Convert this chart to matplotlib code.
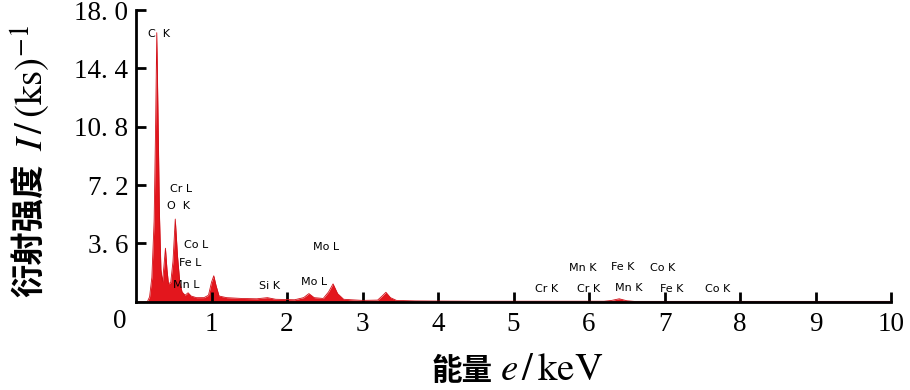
import matplotlib
matplotlib.use('Agg')
import matplotlib.pyplot as plt

plt.rcParams['font.family'] = ['Liberation Serif', 'Noto Sans CJK SC']
plt.rcParams['mathtext.fontset'] = 'stix'

# EDS spectrum
energy = [0.0, 0.15, 0.18, 0.21, 0.24, 0.26, 0.275, 0.29, 0.31, 0.33, 0.35, 0.37,
          0.39, 0.41, 0.43, 0.46, 0.49, 0.52, 0.55, 0.58, 0.61, 0.65, 0.69, 0.73,
          0.8, 0.9, 0.96, 1.0, 1.03, 1.06, 1.1, 1.2, 1.4, 1.6, 1.74, 1.85, 2.1,
          2.22, 2.29, 2.36, 2.48, 2.55, 2.61, 2.67, 2.75, 2.85, 3.0, 3.2, 3.26,
          3.31, 3.37, 3.45, 3.7, 4.0, 4.5, 5.5, 6.2, 6.3, 6.4, 6.5, 6.6, 7.5, 10.0]
counts = [0.0, 0.0, 0.3, 1.5, 5.0, 11.0, 16.6, 12.0, 5.5, 2.0, 1.2, 2.2,
          3.3, 2.0, 1.1, 1.2, 2.5, 5.1, 2.8, 1.2, 0.6, 0.4, 0.55, 0.35,
          0.25, 0.25, 0.4, 1.2, 1.6, 1.0, 0.35, 0.25, 0.2, 0.18, 0.25, 0.15, 0.12,
          0.25, 0.5, 0.25, 0.2, 0.6, 1.1, 0.5, 0.15, 0.12, 0.08, 0.1, 0.35,
          0.58, 0.25, 0.08, 0.05, 0.04, 0.03, 0.03, 0.03, 0.08, 0.18, 0.06, 0.02, 0.02, 0.02]

# peak labels: text, energy, intensity position
peak_labels = ['C  K', 'Cr L', 'O  K', 'Co L', 'Fe L', 'Mn L', 'Si K', 'Mo L', 'Mo L',
               'Cr K', 'Mn K', 'Cr K', 'Fe K', 'Mn K', 'Co K', 'Fe K', 'Co K']
label_x = [0.30, 0.60, 0.56, 0.79, 0.72, 0.66, 1.77, 2.36, 2.52,
           5.44, 5.92, 5.99, 6.44, 6.52, 6.97, 7.10, 7.70]
label_y = [16.5, 6.95, 5.9, 3.5, 2.4, 1.05, 0.98, 1.2, 3.35,
           0.8, 2.05, 0.8, 2.15, 0.85, 2.05, 0.8, 0.8]

xticks = [1, 2, 3, 4, 5, 6, 7, 8, 9, 10]
yticks = [3.6, 7.2, 10.8, 14.4, 18.0]

red = '#e3161d'
W, H = 910, 390

fig = plt.figure(figsize=(9.1, 3.9), dpi=100)
ax = fig.add_axes([136 / W, 1 - 301.7 / H, 755 / W, 291.7 / H])

ax.fill_between(energy, counts, 0, color=red, linewidth=0)
ax.plot(energy, counts, color='#d01018', linewidth=0.6)

for t, x, y in zip(peak_labels, label_x, label_y):
    ax.text(x, y, t, fontsize=8, family='DejaVu Sans', ha='center', va='center',
            color='black')

ax.set_xlim(0, 10)
ax.set_ylim(0, 18)
ax.set_xticks(xticks)
ax.set_xticklabels([str(v) for v in xticks])
ax.set_yticks(yticks)
ax.set_yticklabels([('%.1f' % v).replace('.', '. ') for v in yticks])

for s in ['top', 'right']:
    ax.spines[s].set_visible(False)
for s in ['left', 'bottom']:
    ax.spines[s].set_linewidth(2)
ax.tick_params(direction='in', length=7, width=2, labelsize=19.5, colors='black')
ax.tick_params(axis='x', pad=7.5)
ax.tick_params(axis='y', pad=5.5)

# shared zero at the corner
fig.text(120 / W, 1 - 322 / H, '0', fontsize=19.5, ha='center', va='center')

# axis titles: CJK part and latin/math part drawn separately
cjk = dict(family='Noto Sans CJK SC', fontweight='bold', ha='center', va='center')
fig.text(462 / W, 1 - 371 / H, '能量', fontsize=22, **cjk)
fig.text(552 / W, 1 - 370 / H, r'$e\,/\,\mathrm{keV}$', fontsize=28,
         ha='center', va='center')
fig.text(30 / W, 1 - 230 / H, '衍射强度', fontsize=24, rotation=90, **cjk)
fig.text(31 / W, 1 - 88 / H, r'$I\,/\,(\mathrm{ks})^{-1}$', fontsize=28,
         rotation=90, ha='center', va='center')

fig.savefig('out.png', dpi=100)
